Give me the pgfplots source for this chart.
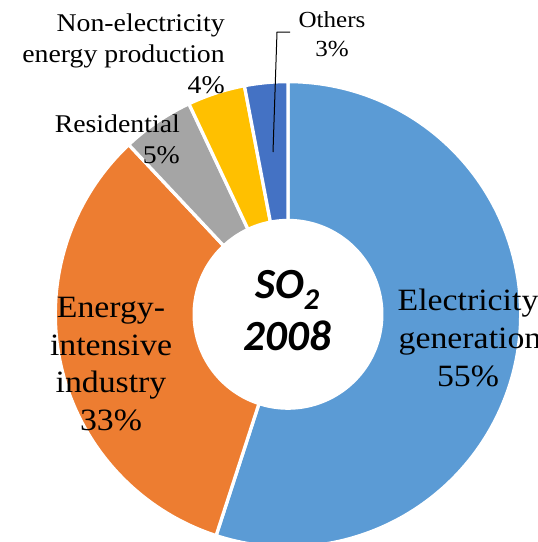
\documentclass[border=0pt]{standalone}
\usepackage{pgfplots}
\usepackage{pgfplotstable}
\pgfplotsset{compat=1.18}
\usepackage{fontspec}
\setmainfont[FakeStretch=1.09]{Liberation Serif}
\newfontfamily\calibri{Carlito}
\definecolor{cElec}{HTML}{5B9BD5}
\definecolor{cEner}{HTML}{ED7D31}
\definecolor{cResi}{HTML}{A5A5A5}
\definecolor{cNone}{HTML}{FFC000}
\definecolor{cOthe}{HTML}{4472C4}
\pgfplotstableread{
sector pct
Electricity 55
Energy 33
Residential 5
NonElectricity 4
Others 3
}\datatable
\tikzset{
  big/.style={font=\fontsize{31}{38}\selectfont, anchor=base, inner sep=0pt},
  small/.style={font=\fontsize{25.5}{31}\selectfont, anchor=base east, inner sep=0pt},
  tiny/.style={font=\fontsize{23}{28}\selectfont, anchor=base, inner sep=0pt},
  ctr/.style={font=\calibri\bfseries\itshape\fontsize{43}{50}\selectfont, anchor=base, inner sep=0pt}
}
\begin{document}
\begin{tikzpicture}
\pgfplotstablegetelem{0}{pct}\of\datatable \pgfmathsetmacro\aA{3.6*\pgfplotsretval}
\pgfplotstablegetelem{1}{pct}\of\datatable \pgfmathsetmacro\aB{\aA+3.6*\pgfplotsretval}
\pgfplotstablegetelem{2}{pct}\of\datatable \pgfmathsetmacro\aC{\aB+3.6*\pgfplotsretval}
\pgfplotstablegetelem{3}{pct}\of\datatable \pgfmathsetmacro\aD{\aC+3.6*\pgfplotsretval}
\pgfplotstablegetelem{4}{pct}\of\datatable \pgfmathsetmacro\aE{\aD+3.6*\pgfplotsretval}
\def\cx{288}\def\cy{314.3}\def\Ro{232.7}\def\Ri{95.5}
\begin{axis}[width=538pt, height=542pt, scale only axis, at={(0,0)}, anchor=south west,
  xmin=0, xmax=538, ymin=0, ymax=542, y dir=reverse, hide axis, clip=true]
\addplot[fill=cElec, draw=white, line width=3.3pt, domain=0:\aA, samples=150, variable=\t]
  ({\cx+\Ro*sin(\t)},{\cy-\Ro*cos(\t)}) -- (axis cs:\cx,\cy) -- cycle;
\addplot[fill=cEner, draw=white, line width=3.3pt, domain=\aA:\aB, samples=100, variable=\t]
  ({\cx+\Ro*sin(\t)},{\cy-\Ro*cos(\t)}) -- (axis cs:\cx,\cy) -- cycle;
\addplot[fill=cResi, draw=white, line width=3.3pt, domain=\aB:\aC, samples=30, variable=\t]
  ({\cx+\Ro*sin(\t)},{\cy-\Ro*cos(\t)}) -- (axis cs:\cx,\cy) -- cycle;
\addplot[fill=cNone, draw=white, line width=3.3pt, domain=\aC:\aD, samples=30, variable=\t]
  ({\cx+\Ro*sin(\t)},{\cy-\Ro*cos(\t)}) -- (axis cs:\cx,\cy) -- cycle;
\addplot[fill=cOthe, draw=white, line width=3.3pt, domain=\aD:\aE, samples=30, variable=\t]
  ({\cx+\Ro*sin(\t)},{\cy-\Ro*cos(\t)}) -- (axis cs:\cx,\cy) -- cycle;
\addplot[fill=white, draw=none, domain=0:360, samples=160, variable=\t]
  ({\cx+\Ri*sin(\t)},{\cy-\Ri*cos(\t)}) -- cycle;
% leader line
\draw[black, line width=1pt] (axis cs:290,32) -- (axis cs:277,32) -- (axis cs:273,152);
% labels
\node[big] at (axis cs:468,310) {Electricity};
\node[big] at (axis cs:470,348) {generation};
\node[big] at (axis cs:468,386) {55\%};
\node[big] at (axis cs:111,317) {Energy-};
\node[big] at (axis cs:111,355) {intensive};
\node[big] at (axis cs:111,392) {industry};
\node[big] at (axis cs:111,430) {33\%};
\node[small] at (axis cs:225,31) {Non-electricity};
\node[small] at (axis cs:225,62) {energy production};
\node[small] at (axis cs:225,93) {4\%};
\node[small] at (axis cs:180,132) {Residential};
\node[small] at (axis cs:180,163) {5\%};
\node[tiny] at (axis cs:332,27) {Others};
\node[tiny] at (axis cs:332,56) {3\%};
\node[ctr] at (axis cs:287.5,298) {SO\textsubscript{2}};
\node[ctr] at (axis cs:287.5,350) {2008};
\end{axis}
\pgfresetboundingbox
\path[use as bounding box] (current axis.south west) rectangle (current axis.north east);
\end{tikzpicture}
\end{document}
